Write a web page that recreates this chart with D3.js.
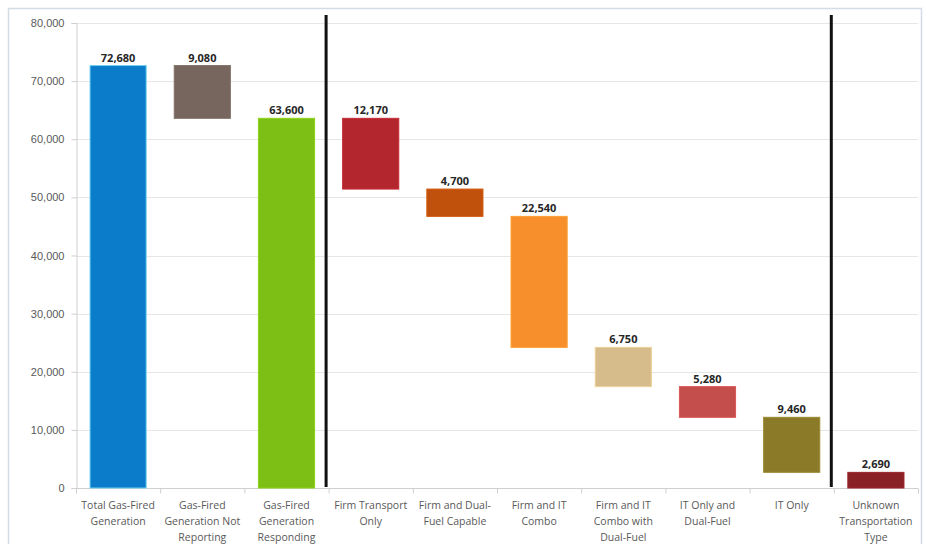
<!DOCTYPE html>
<html>
<head>
<meta charset="utf-8">
<script src="https://cdn.jsdelivr.net/npm/d3@7/dist/d3.min.js"></script>
<style>
  html, body { margin: 0; padding: 0; background: #fff; }
  svg { display: block; font-family: "Open Sans", "Liberation Sans", sans-serif; }
</style>
</head>
<body>
<svg id="chart" width="930" height="544"></svg>
<script>
// Gas-fired generation capacity by transportation type (MW)
const categories = [
  ["Total Gas-Fired", "Generation"],
  ["Gas-Fired", "Generation Not", "Reporting"],
  ["Gas-Fired", "Generation", "Responding"],
  ["Firm Transport", "Only"],
  ["Firm and Dual-", "Fuel Capable"],
  ["Firm and IT", "Combo"],
  ["Firm and IT", "Combo with", "Dual-Fuel"],
  ["IT Only and", "Dual-Fuel"],
  ["IT Only"],
  ["Unknown", "Transportation", "Type"]
];
// Segment sizes; kind: "total" starts at zero, "down" steps down from the running level
const values = [72680, 9080, 63600, 12170, 4700, 22540, 6750, 5280, 9460, 2690];
const kinds  = ["total", "down", "total", "down", "down", "down", "down", "down", "down", "total"];
const colors = ["#0A7CC9", "#76665D", "#7DBF14", "#B3262E", "#C0510C", "#F78F2C",
                "#D6BC8A", "#C34E4C", "#8B7B29", "#8A2126"];
const yTicks = [0, 10000, 20000, 30000, 40000, 50000, 60000, 70000, 80000];
// Separators drawn after these category indices
const dividers = [2, 8];

// Build bar extents (low/high) from the running level
let level = 0;
const bars = values.map((v, i) => {
  let lo, hi;
  if (kinds[i] === "total") { lo = 0; hi = v; level = v; }
  else { hi = level; lo = level - v; level = lo; }
  // the "not reporting" step sits on top of the responding total
  return { i, v, lo, hi };
});
// Not-reporting segment spans from responding total up to overall total
bars[1].hi = values[0]; bars[1].lo = values[0] - values[1];

const svg = d3.select("#chart");
const W = 930, H = 544;
const m = { left: 76, right: 12, top: 23, bottom: 56 };
const plotR = 918;

// outer frame
svg.append("rect").attr("x", 8.5).attr("y", 8.5).attr("width", W - 17).attr("height", H)
  .attr("fill", "none").attr("stroke", "#d3dbe6").attr("stroke-width", 1.5);

const x = d3.scaleBand().domain(d3.range(categories.length))
  .range([m.left, plotR]).paddingInner(1/3).paddingOuter(1/6);
const y = d3.scaleLinear().domain([0, 80000]).range([488, 23]);

// gridlines
svg.append("g").selectAll("line").data(yTicks.filter(t => t > 0)).join("line")
  .attr("x1", m.left).attr("x2", plotR)
  .attr("y1", d => Math.round(y(d)) + 0.5).attr("y2", d => Math.round(y(d)) + 0.5)
  .attr("stroke", "#e6e6e6").attr("stroke-width", 1);

// y axis
const yAxis = svg.append("g").attr("transform", `translate(${m.left + 0.5},0)`)
  .call(d3.axisLeft(y).tickValues(yTicks).tickFormat(d3.format(",")).tickSize(5).tickPadding(7));
yAxis.select(".domain").attr("stroke", "#cfcfcf");
yAxis.selectAll(".tick line").attr("stroke", "#cfcfcf");
yAxis.selectAll("text").attr("fill", "#595959").style("font-size", "11px");

// x axis with tick marks at category boundaries
const xg = svg.append("g").attr("transform", `translate(0,${y(0) + 0.5})`);
xg.append("line").attr("x1", m.left).attr("x2", plotR).attr("stroke", "#cfcfcf");
const step = x.step();
xg.selectAll("line.tk").data(d3.range(categories.length + 1)).join("line").attr("class", "tk")
  .attr("x1", d => m.left + d * step + 0.5).attr("x2", d => m.left + d * step + 0.5)
  .attr("y1", 0).attr("y2", 5).attr("stroke", "#cfcfcf");

const labels = svg.append("g").selectAll("text").data(categories).join("text")
  .attr("text-anchor", "middle").attr("fill", "#595959").style("font-size", "10.5px")
  .attr("transform", (d, i) => `translate(${x(i) + x.bandwidth() / 2},509)`);
labels.selectAll("tspan").data(d => d).join("tspan")
  .attr("x", 0).attr("y", (d, j) => j * 16).text(d => d);

// bars
svg.append("g").selectAll("rect").data(bars).join("rect")
  .attr("x", d => x(d.i)).attr("width", x.bandwidth())
  .attr("y", d => y(d.hi)).attr("height", d => y(d.lo) - y(d.hi))
  .attr("fill", d => colors[d.i])
  .attr("stroke", (d, i) => i === 0 ? "#6fd0f5" : d3.color(colors[d.i]).brighter(0.3))
  .attr("stroke-width", 1);

// value labels
svg.append("g").selectAll("text").data(bars).join("text")
  .attr("x", d => x(d.i) + x.bandwidth() / 2).attr("y", d => y(d.hi) - 4)
  .attr("text-anchor", "middle").attr("fill", "#262626")
  .style("font-size", "11px").style("font-weight", "bold")
  .text(d => d3.format(",")(d.v));

// section dividers
svg.append("g").selectAll("line").data(dividers).join("line")
  .attr("x1", d => m.left + (d + 1) * step - 2.5).attr("x2", d => m.left + (d + 1) * step - 2.5)
  .attr("y1", 15).attr("y2", 487)
  .attr("stroke", "#111").attr("stroke-width", 3);
</script>
</body>
</html>
